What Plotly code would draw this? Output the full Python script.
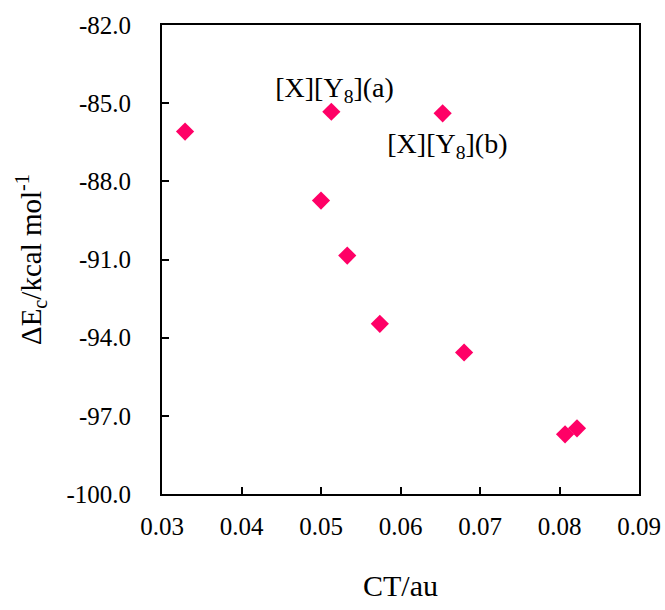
import plotly.graph_objects as go

ct = [0.0329, 0.0513, 0.0653, 0.0500, 0.0533, 0.0574, 0.0680, 0.0807, 0.0822]
dEc = [-86.09, -85.33, -85.39, -88.74, -90.85, -93.47, -94.57, -97.71, -97.48]

label_text = ["[X][Y<sub>8</sub>](a)", "[X][Y<sub>8</sub>](b)"]
label_x = [0.0517, 0.0659]
label_y = [-84.5, -86.65]

x_ticks = [0.03, 0.04, 0.05, 0.06, 0.07, 0.08, 0.09]
y_ticks = [-100.0, -97.0, -94.0, -91.0, -88.0, -85.0, -82.0]

FONT = "Liberation Serif"

fig = go.Figure()
fig.add_trace(go.Scatter(
    x=ct, y=dEc, mode="markers",
    marker=dict(symbol="diamond", size=14, color="#FF0066"),
    showlegend=False,
))
fig.add_trace(go.Scatter(
    x=label_x, y=label_y, mode="text", text=label_text,
    textfont=dict(family=FONT, size=28, color="black"),
    showlegend=False,
))

tick_font = dict(family=FONT, size=25, color="black")

fig.update_layout(
    template="none",
    width=665, height=610,
    margin=dict(l=162, r=26, t=25, b=116),
    font=dict(family=FONT, size=25, color="black"),
    plot_bgcolor="white", paper_bgcolor="white",
    showlegend=False,
)
fig.update_xaxes(
    range=[0.03, 0.09], tickmode="array", tickvals=x_ticks,
    ticktext=[f"{v:.2f}" for v in x_ticks],
    showline=True, linecolor="black", linewidth=2, mirror=True,
    ticks="inside", ticklen=7, tickwidth=2, tickcolor="black",
    showgrid=False, zeroline=False, automargin=False,
    tickfont=tick_font, ticklabelstandoff=9,
    title=dict(text="CT/au", font=dict(family=FONT, size=30, color="black"), standoff=36),
)
fig.update_yaxes(
    range=[-100, -82], tickmode="array", tickvals=y_ticks,
    ticktext=[f"{v:.1f}" for v in y_ticks],
    showline=True, linecolor="black", linewidth=2, mirror=True,
    ticks="inside", ticklen=7, tickwidth=2, tickcolor="black",
    showgrid=False, zeroline=False, automargin=False,
    tickfont=tick_font, ticklabelstandoff=24,
    title=dict(text="ΔE<sub>c</sub>/kcal mol<sup>-1</sup>", font=dict(family=FONT, size=29, color="black"), standoff=16),
)

fig.write_html(
    "out.html",
    config={"displayModeBar": False},
    post_script="document.body.style.margin='0';document.body.style.overflow='hidden';",
)
